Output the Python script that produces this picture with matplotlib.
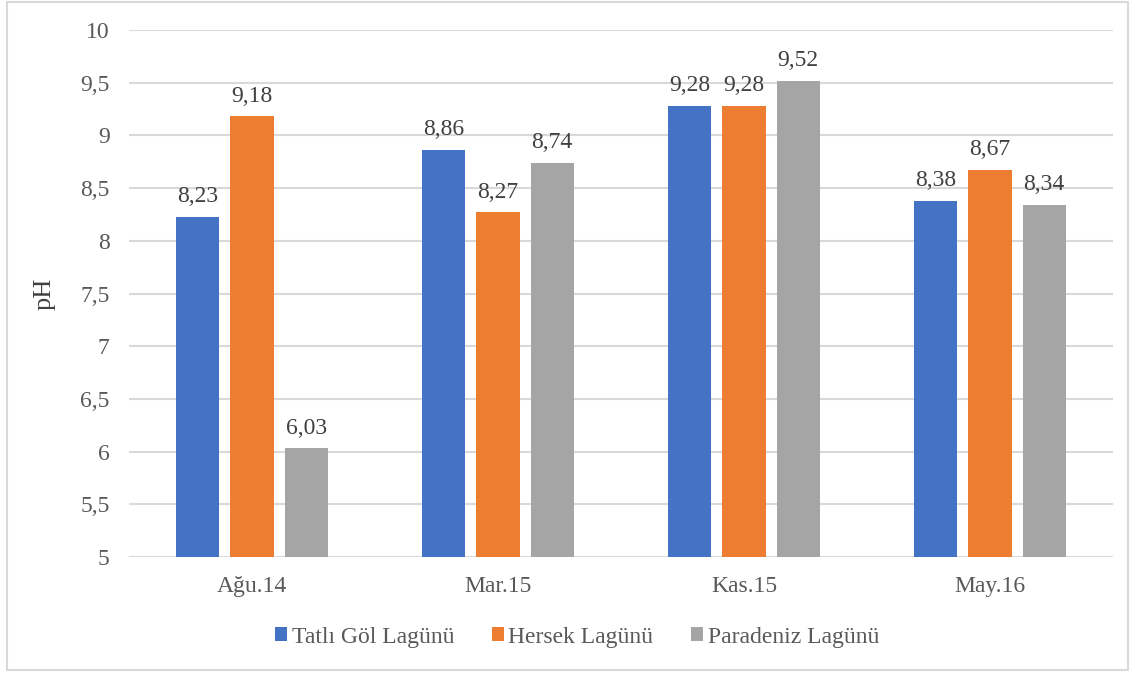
import matplotlib.pyplot as plt
from matplotlib.patches import Rectangle
import numpy as np

# Veriler
categories = ["Ağu.14", "Mar.15", "Kas.15", "May.16"]
series_names = ["Tatlı Göl Lagünü", "Hersek Lagünü", "Paradeniz Lagünü"]
tatli = [8.23, 8.86, 9.28, 8.38]
hersek = [9.18, 8.27, 9.28, 8.67]
paradeniz = [6.03, 8.74, 9.52, 8.34]
colors = ["#4472C4", "#ED7D31", "#A5A5A5"]

plt.rcParams["font.family"] = ["Liberation Serif", "DejaVu Serif"]
txt = "#595959"

fig = plt.figure(figsize=(11.35, 6.77), dpi=100)
ax = fig.add_axes([129 / 1135, 120 / 677, 984 / 1135, 527 / 677])

x = np.arange(len(categories))
width = 0.175
step = 0.22
for i, (vals, name) in enumerate(zip([tatli, hersek, paradeniz], series_names)):
    bars = ax.bar(x + (i - 1) * step, np.array(vals) - 5, width, bottom=5,
                  color=colors[i], label=name, zorder=3)
    for b, v in zip(bars, vals):
        ax.annotate(f"{v:.2f}".replace(".", ","), (b.get_x() + b.get_width() / 2, v),
                    xytext=(0, 7), textcoords="offset points", ha="center", va="bottom",
                    fontsize=17, color="#404040")

ax.set_ylim(5, 10)
ax.set_xlim(-0.5, 3.5)
ax.set_yticks(np.arange(5, 10.01, 0.5))
ax.set_yticklabels([f"{t:g}".replace(".", ",") for t in np.arange(5, 10.01, 0.5)])
ax.set_xticks(x)
ax.set_xticklabels(categories)
ax.tick_params(axis="both", length=0, labelsize=17, labelcolor=txt)
ax.tick_params(axis="y", pad=14)
ax.tick_params(axis="x", pad=14)
ax.grid(axis="y", color="#d9d9d9", linewidth=1.5, zorder=0)
for s in ax.spines.values():
    s.set_visible(False)
ax.set_ylabel("pH", fontsize=19, color="#404040", labelpad=18)

fig.legend(loc="center", bbox_to_anchor=(577 / 1135, 40 / 677), ncol=3, frameon=False,
           fontsize=17, handlelength=0.5, handleheight=0.5, handletextpad=0.2,
           columnspacing=1.6, labelcolor=txt)

fig.patches.append(Rectangle((7 / 1135, 7 / 677), 1121 / 1135, 668 / 677,
                             transform=fig.transFigure, fill=False,
                             edgecolor="#d9d9d9", linewidth=1.5))

fig.savefig("out.png", dpi=100)
